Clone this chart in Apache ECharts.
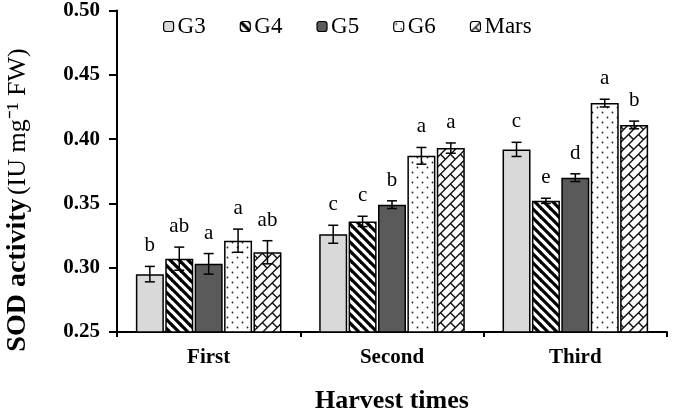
<!DOCTYPE html>
<html>
<head>
<meta charset="utf-8">
<script src="https://cdn.jsdelivr.net/npm/echarts@6/dist/echarts.min.js"></script>
<style>
html,body{margin:0;padding:0;background:#fff;}
#chart{width:685px;height:419px;}
</style>
</head>
<body>
<div id="chart"></div>
<script>
// ---- data ----
var categories = ['First', 'Second', 'Third'];
var seriesNames = ['G3', 'G4', 'G5', 'G6', 'Mars'];
var G3 = [0.295, 0.326, 0.392];
var G4 = [0.307, 0.336, 0.352];
var G5 = [0.303, 0.349, 0.370];
var G6 = [0.321, 0.387, 0.428];
var Mars = [0.312, 0.393, 0.411];
var G3err = [0.006, 0.007, 0.0055];
var G4err = [0.009, 0.004, 0.002];
var G5err = [0.008, 0.003, 0.003];
var G6err = [0.009, 0.0065, 0.003];
var MarsErr = [0.009, 0.004, 0.003];
var G3letters = ['b', 'c', 'c'];
var G4letters = ['ab', 'c', 'e'];
var G5letters = ['a', 'b', 'd'];
var G6letters = ['a', 'a', 'a'];
var MarsLetters = ['ab', 'a', 'b'];
var yTicks = [0.25, 0.30, 0.35, 0.40, 0.45, 0.50];

// ---- patterns ----
function stripes() {
  var s = 9, c = document.createElement('canvas');
  c.width = s; c.height = s;
  var x = c.getContext('2d');
  x.fillStyle = '#fff'; x.fillRect(0, 0, s, s);
  x.strokeStyle = '#000'; x.lineWidth = 3.2;
  for (var k = -1; k <= 1; k++) {
    x.beginPath(); x.moveTo(k * s - 1, -1); x.lineTo(k * s + s + 1, s + 1); x.stroke();
  }
  return c;
}
function dots() {
  var s = 10, c = document.createElement('canvas');
  c.width = s; c.height = s;
  var x = c.getContext('2d');
  x.fillStyle = '#fff'; x.fillRect(0, 0, s, s);
  x.fillStyle = '#222';
  x.beginPath(); x.arc(2.5, 2.5, 0.9, 0, Math.PI * 2); x.fill();
  x.beginPath(); x.arc(7.5, 7.5, 0.9, 0, Math.PI * 2); x.fill();
  return c;
}
function bricks() {
  var c = document.createElement('canvas');
  c.width = 700; c.height = 450;
  var x = c.getContext('2d');
  x.fillStyle = '#fff'; x.fillRect(0, 0, 700, 450);
  x.save();
  x.translate(350, 225);
  x.rotate(-Math.PI / 4);
  x.strokeStyle = '#111'; x.lineWidth = 1.4;
  var bw = 14, bh = 7;
  for (var r = -70; r <= 70; r++) {
    var y = r * bh;
    x.beginPath(); x.moveTo(-600, y); x.lineTo(600, y); x.stroke();
    var off = (r % 2 === 0) ? 0 : bw / 2;
    for (var xx = -600 + off; xx <= 600; xx += bw) {
      x.beginPath(); x.moveTo(xx, y); x.lineTo(xx, y + bh); x.stroke();
    }
  }
  x.restore();
  return c;
}

var fills = [
  '#d9d9d9',
  { image: stripes(), repeat: 'repeat' },
  '#5a5a5a',
  { image: dots(), repeat: 'repeat' },
  { image: bricks(), repeat: 'repeat' }
];
var values = [G3, G4, G5, G6, Mars];
var errs = [G3err, G4err, G5err, G6err, MarsErr];
var letters = [G3letters, G4letters, G5letters, G6letters, MarsLetters];

var BAR_W = 28, BAR_GAP = 1.4;
var serif = '"Liberation Serif", "Times New Roman", serif';

var series = seriesNames.map(function (n, i) {
  return {
    name: n, type: 'bar', data: values[i],
    barWidth: BAR_W, barGap: '5%',
    itemStyle: { color: fills[i], borderColor: '#000', borderWidth: 1.5 },
    z: 2
  };
});

var errData = [];
seriesNames.forEach(function (n, i) {
  categories.forEach(function (c, j) {
    errData.push([j, i, values[i][j], errs[i][j]]);
  });
});

series.push({
  type: 'custom', name: 'err', z: 5,
  data: errData,
  encode: { x: 0, y: 2 },
  renderItem: function (params, api) {
    var cat = api.value(0), s = api.value(1), v = api.value(2), e = api.value(3);
    var off = (s - 2) * (BAR_W + BAR_GAP);
    var top = api.coord([cat, v + e]);
    var bot = api.coord([cat, v - e]);
    var x0 = top[0] + off;
    var cap = 5;
    var st = { stroke: '#000', lineWidth: 1.5 };
    var letter = letters[s][cat];
    return {
      type: 'group',
      children: [
        { type: 'line', shape: { x1: x0, y1: top[1], x2: x0, y2: bot[1] }, style: st },
        { type: 'line', shape: { x1: x0 - cap, y1: top[1], x2: x0 + cap, y2: top[1] }, style: st },
        { type: 'line', shape: { x1: x0 - cap, y1: bot[1], x2: x0 + cap, y2: bot[1] }, style: st },
        { type: 'text', style: { text: letter, x: x0, y: top[1] - 10, align: 'center', verticalAlign: 'bottom',
            font: '21px ' + serif, fill: '#000' } }
      ]
    };
  }
});

var chart = echarts.init(document.getElementById('chart'));
chart.setOption({
  animation: false,
  backgroundColor: '#fff',
  grid: { left: 117, right: 18, top: 8, bottom: 76 },
  legend: {
    data: seriesNames,
    left: 158, top: 10,
    itemWidth: 10, itemHeight: 10, itemGap: 34,
    textStyle: { fontFamily: serif, fontSize: 23, color: '#000', padding: [0, 0, 0, -1] },
    itemStyle: { borderColor: '#000', borderWidth: 1.2 }
  },
  xAxis: {
    type: 'category', data: categories,
    axisLine: { lineStyle: { color: '#000', width: 2 } },
    axisTick: { show: true, length: 5, lineStyle: { color: '#000', width: 2 } },
    axisLabel: { fontFamily: serif, fontWeight: 'bold', fontSize: 21, color: '#000', margin: 15 },
    name: 'Harvest times', nameLocation: 'middle', nameGap: 56,
    nameTextStyle: { fontFamily: serif, fontWeight: 'bold', fontSize: 26, color: '#000' }
  },
  yAxis: {
    type: 'value', min: 0.25, max: 0.5, interval: 0.05,
    splitLine: { show: false },
    axisLine: { show: true, lineStyle: { color: '#000', width: 2 } },
    axisTick: { show: true, length: 8, lineStyle: { color: '#000', width: 2 } },
    axisLabel: { fontFamily: serif, fontWeight: 'bold', fontSize: 21, color: '#000', margin: 17,
      formatter: function (v) { return v.toFixed(2); } }
  },
  graphic: [{
    type: 'text', x: 18, y: 200, rotation: Math.PI / 2,
    style: {
      text: '{b|SOD activity} {r|(IU mg⁻¹ FW)}',
      align: 'center', verticalAlign: 'middle',
      rich: {
        b: { fontFamily: serif, fontWeight: 'bold', fontSize: 28, fill: '#000' },
        r: { fontFamily: serif, fontSize: 26, fill: '#000' }
      }
    }
  }],
  series: series
});
</script>
</body>
</html>
